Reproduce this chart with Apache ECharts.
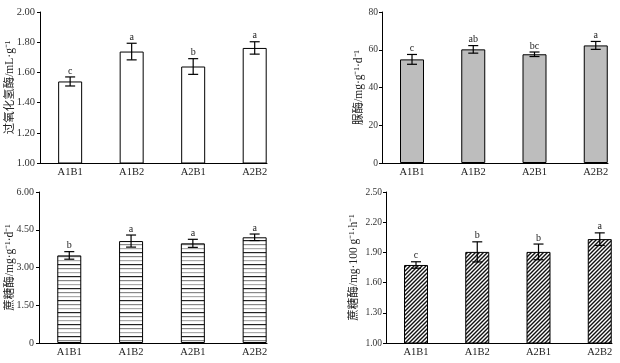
<!DOCTYPE html>
<html><head><meta charset="utf-8">
<script src="https://cdn.jsdelivr.net/npm/echarts@6/dist/echarts.min.js"></script>
<style>html,body{margin:0;padding:0;background:#fff}#c{width:620px;height:363px}</style>
</head><body><div id="c"></div>
<script>
const categories = ['A1B1','A1B2','A2B1','A2B2'];
// Panel 1: catalase
const catalaseMean = [1.54, 1.738, 1.639, 1.762];
const catalaseErr = [0.030, 0.055, 0.052, 0.041];
const catalaseLetters = ['c','a','b','a'];
const catalaseTicks = [1.0, 2.0, 0.2];
// Panel 2: urease
const ureaseMean = [54.9, 60.2, 57.6, 62.3];
const ureaseErr = [2.6, 2.0, 1.2, 2.1];
const ureaseLetters = ['c','ab','bc','a'];
const ureaseTicks = [0, 80, 20];
// Panel 3: sucrase (mg·g-1·d-1)
const sucraseMean = [3.48, 4.05, 3.96, 4.20];
const sucraseErr = [0.15, 0.24, 0.16, 0.13];
const sucraseLetters = ['b','a','a','a'];
const sucraseTicks = [0, 6, 1.5];
// Panel 4: sucrase (mg·100 g-1·h-1)
const sucrase2Mean = [1.775, 1.905, 1.905, 2.032];
const sucrase2Err = [0.032, 0.100, 0.078, 0.062];
const sucrase2Letters = ['c','b','b','a'];
const sucrase2Ticks = [1.0, 2.5, 0.3];

const names = ['过氧化氢酶/mL·g⁻¹','脲酶/mg·g⁻¹·d⁻¹','蔗糖酶/mg·g⁻¹·d⁻¹','蔗糖酶/mg·100 g⁻¹·h⁻¹'];

function stripePattern(){
  const c = document.createElement('canvas'); c.width = 8; c.height = 12;
  const g = c.getContext('2d');
  g.fillStyle = '#fff'; g.fillRect(0,0,8,12);
  g.fillStyle = '#222'; g.fillRect(0,0,8,1.2);
  g.fillStyle = '#888'; g.fillRect(0,4,8,1.2);
  g.fillStyle = '#aaa'; g.fillRect(0,8,8,1.2);
  return {image: c, repeat: 'repeat'};
}
function hatchPattern(){
  const s = 4;
  const c = document.createElement('canvas'); c.width = s; c.height = s;
  const g = c.getContext('2d');
  g.fillStyle = '#fff'; g.fillRect(0,0,s,s);
  g.strokeStyle = '#111'; g.lineWidth = 1.4;
  g.beginPath();
  g.moveTo(0, s); g.lineTo(s, 0);
  g.moveTo(-1, 1); g.lineTo(1, -1);
  g.moveTo(s-1, s+1); g.lineTo(s+1, s-1);
  g.stroke();
  return {image: c, repeat: 'repeat'};
}

const panels = [
  {mean: catalaseMean, err: catalaseErr, letters: catalaseLetters, ticks: catalaseTicks, fmt: v => v.toFixed(2), fill: '#ffffff',
   grid: {left: 40, top: 12, width: 227, height: 151}, name: names[0], nameGap: 24, yfs: 10.5, ym: 5},
  {mean: ureaseMean, err: ureaseErr, letters: ureaseLetters, ticks: ureaseTicks, fmt: v => String(Math.round(v)), fill: '#bdbdbd',
   grid: {left: 382, top: 12, width: 226, height: 151}, name: names[1], nameGap: 17, yfs: 9.5, ym: 4},
  {mean: sucraseMean, err: sucraseErr, letters: sucraseLetters, ticks: sucraseTicks, fmt: v => v === 0 ? '0' : v.toFixed(2), fill: stripePattern(),
   grid: {left: 39, top: 192, width: 228, height: 151}, name: names[2], nameGap: 23, yfs: 10, ym: 5},
  {mean: sucrase2Mean, err: sucrase2Err, letters: sucrase2Letters, ticks: sucrase2Ticks, fmt: v => v.toFixed(2), fill: hatchPattern(),
   grid: {left: 386, top: 192, width: 226, height: 151}, name: names[3], nameGap: 26, yfs: 9.5, ym: 4}
];

const font = "'Liberation Serif','Noto Sans CJK SC',serif";
const option = {animation: false, backgroundColor: '#fff', grid: [], xAxis: [], yAxis: [], series: []};
panels.forEach((p, k) => {
  option.grid.push(Object.assign({containLabel: false}, p.grid));
  option.xAxis.push({
    type: 'value', gridIndex: k, min: -0.49, max: 3.2,
    axisLine: {show: true, onZero: false, lineStyle: {color: '#000', width: 1}},
    axisTick: {show: false}, splitLine: {show: false},
    axisLabel: {customValues: [0,1,2,3], formatter: v => categories[Math.round(v)] || '', color: '#222',
      fontFamily: font, fontSize: 10.5, margin: 4}
  });
  option.yAxis.push({
    type: 'value', gridIndex: k, min: p.ticks[0], max: p.ticks[1], interval: p.ticks[2],
    name: p.name, nameLocation: 'middle', nameRotate: 90, nameGap: p.nameGap, nameMoveOverlap: false,
    nameTextStyle: {fontFamily: font, fontSize: 11.5, color: '#222'},
    axisLine: {show: true, onZero: false, lineStyle: {color: '#000', width: 1}},
    axisTick: {show: true, inside: false, length: 3, lineStyle: {color: '#000'}},
    splitLine: {show: false},
    axisLabel: {formatter: p.fmt, color: '#333', fontFamily: font, fontSize: p.yfs, margin: p.ym}
  });
  option.series.push({
    type: 'bar', xAxisIndex: k, yAxisIndex: k, barWidth: 24,
    data: p.mean.map((v, i) => [i, v]),
    itemStyle: {color: p.fill, borderColor: '#000', borderWidth: 1}
  });
  option.series.push({
    type: 'custom', xAxisIndex: k, yAxisIndex: k, z: 5,
    data: p.mean.map((v, i) => [i, v, p.err[i]]),
    renderItem: function(params, api){
      const i = api.value(0), m = api.value(1), e = api.value(2);
      const top = api.coord([i, m + e]), bot = api.coord([i, m - e]);
      const hw = 5;
      const st = {stroke: '#000', lineWidth: 1.2};
      return {type: 'group', children: [
        {type: 'line', shape: {x1: top[0], y1: top[1], x2: bot[0], y2: bot[1]}, style: st},
        {type: 'line', shape: {x1: top[0]-hw, y1: top[1], x2: top[0]+hw, y2: top[1]}, style: st},
        {type: 'line', shape: {x1: bot[0]-hw, y1: bot[1], x2: bot[0]+hw, y2: bot[1]}, style: st},
        {type: 'text', x: top[0], y: top[1] - 1, style: {text: p.letters[params.dataIndex], fill: '#222',
          font: "10px " + font, align: 'center', verticalAlign: 'bottom'}}
      ]};
    }
  });
});
const chart = echarts.init(document.getElementById('c'), null, {renderer: 'canvas'});
chart.setOption(option);
</script></body></html>
